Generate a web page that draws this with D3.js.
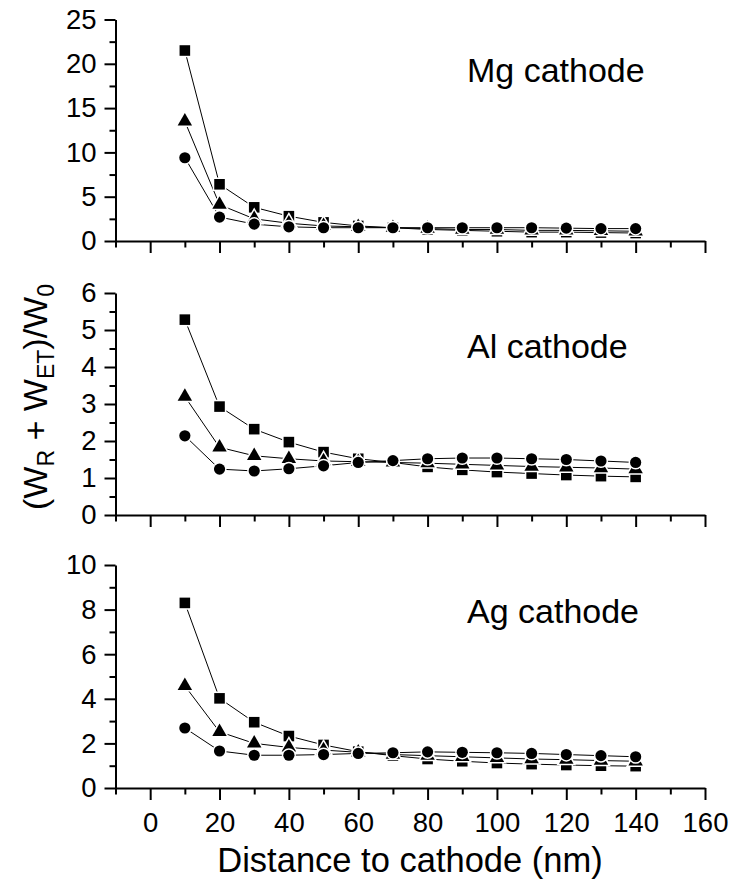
<!DOCTYPE html>
<html>
<head>
<meta charset="utf-8">
<script src="https://cdn.jsdelivr.net/npm/d3@7"></script>
<style>
body { margin: 0; background: #fff; }
text { font-family: Arial, "Liberation Sans", sans-serif; fill: #000; }
</style>
</head>
<body>
<script>
// distances (nm)
var distance = [10, 20, 30, 40, 50, 60, 70, 80, 90, 100, 110, 120, 130, 140];

// Mg cathode
var mgSquare   = [21.5, 6.4, 3.8, 2.8, 2.1, 1.7, 1.5, 1.3, 1.2, 1.1, 1.0, 1.0, 0.95, 0.9];
var mgTriangle = [13.5, 4.1, 2.5, 2.0, 1.7, 1.6, 1.5, 1.4, 1.3, 1.3, 1.2, 1.2, 1.15, 1.1];
var mgCircle   = [9.4, 2.7, 1.9, 1.6, 1.5, 1.5, 1.5, 1.5, 1.5, 1.5, 1.5, 1.45, 1.4, 1.4];

// Al cathode
var alSquare   = [5.28, 2.93, 2.32, 1.97, 1.70, 1.52, 1.42, 1.30, 1.22, 1.16, 1.12, 1.08, 1.05, 1.03];
var alTriangle = [3.2, 1.83, 1.6, 1.52, 1.46, 1.44, 1.42, 1.40, 1.37, 1.34, 1.31, 1.29, 1.27, 1.24];
var alCircle   = [2.14, 1.24, 1.19, 1.25, 1.33, 1.42, 1.47, 1.52, 1.54, 1.54, 1.52, 1.50, 1.46, 1.42];

// Ag cathode
var agSquare   = [8.3, 4.02, 2.95, 2.33, 1.93, 1.63, 1.45, 1.3, 1.2, 1.12, 1.07, 1.03, 1.0, 0.98];
var agTriangle = [4.58, 2.52, 2.0, 1.82, 1.7, 1.6, 1.5, 1.45, 1.4, 1.35, 1.3, 1.27, 1.23, 1.2];
var agCircle   = [2.69, 1.66, 1.47, 1.47, 1.5, 1.55, 1.58, 1.62, 1.6, 1.58, 1.55, 1.5, 1.45, 1.4];

// ticks
var xTicks = [0, 20, 40, 60, 80, 100, 120, 140, 160];
var xMinorTicks = [-10, 10, 30, 50, 70, 90, 110, 130, 150];
var mgTicks = [0, 5, 10, 15, 20, 25];
var mgMinor = [2.5, 7.5, 12.5, 17.5, 22.5];
var alTicks = [0, 1, 2, 3, 4, 5, 6];
var alMinor = [0.5, 1.5, 2.5, 3.5, 4.5, 5.5];
var agTicks = [0, 2, 4, 6, 8, 10];
var agMinor = [1, 3, 5, 7, 9];

var names = ["Mg cathode", "Al cathode", "Ag cathode"];

var svg = d3.select("body").append("svg")
  .attr("width", 732)
  .attr("height", 892);

var x = d3.scaleLinear().domain([-10, 160]).range([115.5, 705]);

// layout of the three stacked panels
var layout = [
  {top: 19.5, bottom: 241, max: 25, ticks: mgTicks, minor: mgMinor, labelY: 82,  sets: [mgSquare, mgTriangle, mgCircle]},
  {top: 293,  bottom: 515, max: 6,  ticks: alTicks, minor: alMinor, labelY: 358, sets: [alSquare, alTriangle, alCircle]},
  {top: 565,  bottom: 788, max: 10, ticks: agTicks, minor: agMinor, labelY: 623, sets: [agSquare, agTriangle, agCircle]}
];

var shapes = [
  d3.symbol().type(d3.symbolSquare).size(112),
  d3.symbol().type(d3.symbolTriangle).size(90),
  d3.symbol().type(d3.symbolCircle).size(98)
];

layout.forEach(function(p, i) {
  var y = d3.scaleLinear().domain([0, p.max]).range([p.bottom, p.top]);
  var g = svg.append("g");
  var last = i == layout.length - 1;

  // x axis
  g.append("g")
    .attr("transform", "translate(0," + p.bottom + ")")
    .call(d3.axisBottom(x).tickValues(xTicks).tickSize(12).tickSizeOuter(0).tickPadding(12)
      .tickFormat(last ? d3.format("d") : function() { return ""; }));
  g.append("g")
    .attr("transform", "translate(0," + p.bottom + ")")
    .call(d3.axisBottom(x).tickValues(xMinorTicks).tickSize(6.5).tickFormat(""))
    .select(".domain").remove();

  // y axis
  g.append("g")
    .attr("transform", "translate(" + x(-10) + ",0)")
    .call(d3.axisLeft(y).tickValues(p.ticks).tickSize(11).tickSizeOuter(0).tickPadding(8)
      .tickFormat(d3.format("d")));
  g.append("g")
    .attr("transform", "translate(" + x(-10) + ",0)")
    .call(d3.axisLeft(y).tickValues(p.minor).tickSize(6).tickFormat(""))
    .select(".domain").remove();

  g.selectAll(".domain, .tick line").attr("stroke", "#000").attr("stroke-width", 2);
  g.selectAll(".tick text").attr("font-size", "27.5px").attr("font-family", "Arial, 'Liberation Sans', sans-serif");

  // lines
  var line = d3.line()
    .x(function(d, j) { return x(distance[j]); })
    .y(function(d) { return y(d); });
  p.sets.forEach(function(s) {
    g.append("path")
      .attr("d", line(s))
      .attr("fill", "none")
      .attr("stroke", "#000")
      .attr("stroke-width", 1);
  });

  // markers
  p.sets.forEach(function(s, k) {
    g.selectAll(null)
      .data(s)
      .enter()
      .append("path")
      .attr("d", shapes[k])
      .attr("transform", function(d, j) { return "translate(" + x(distance[j]) + "," + y(d) + ")"; })
      .attr("fill", "#000")
      .attr("stroke", "#fff")
      .attr("stroke-width", 3)
      .style("paint-order", "stroke");
  });

  g.append("text")
    .attr("x", 467)
    .attr("y", p.labelY)
    .attr("font-size", "34px")
    .text(names[i]);
});

// x title
svg.append("text")
  .attr("x", 410)
  .attr("y", 872)
  .attr("text-anchor", "middle")
  .attr("font-size", "34.5px")
  .text("Distance to cathode (nm)");

// y title
var yt = svg.append("text")
  .attr("transform", "translate(47,397) rotate(-90)")
  .attr("text-anchor", "middle")
  .attr("font-size", "34px");
yt.append("tspan").text("(W");
yt.append("tspan").attr("font-size", "23px").attr("dy", 7).text("R");
yt.append("tspan").attr("dy", -7).text(" + W");
yt.append("tspan").attr("font-size", "23px").attr("dy", 7).text("ET");
yt.append("tspan").attr("dy", -7).text(")/W");
yt.append("tspan").attr("font-size", "23px").attr("dy", 7).text("0");
</script>
</body>
</html>
